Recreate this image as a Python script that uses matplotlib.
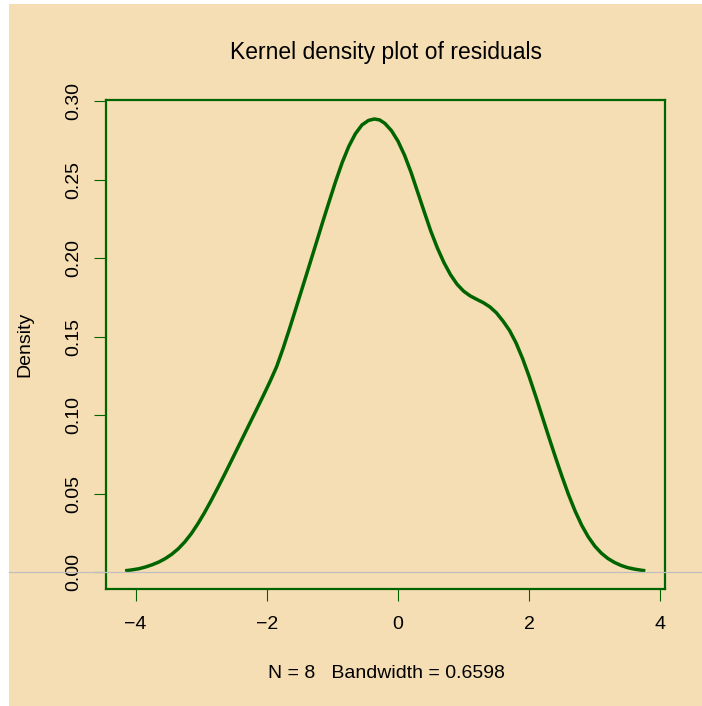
import matplotlib
matplotlib.use("Agg")
import matplotlib.pyplot as plt
import matplotlib.transforms as mtransforms
from matplotlib.patches import Rectangle
from matplotlib.lines import Line2D

plt.rcParams['font.family'] = ['Liberation Sans', 'DejaVu Sans']

# Density curve points
density_x = [-4.16, -4.05, -3.95, -3.85, -3.75, -3.65, -3.55, -3.45, -3.35, -3.25,
             -3.15, -3.05, -2.95, -2.85, -2.75, -2.65, -2.55, -2.45, -2.35, -2.25,
             -2.15, -2.05, -1.95, -1.85, -1.75, -1.65, -1.55, -1.45, -1.35, -1.25,
             -1.15, -1.05, -0.95, -0.85, -0.75, -0.65, -0.55, -0.45, -0.36, -0.28,
             -0.20, -0.10, 0.00, 0.10, 0.20, 0.30, 0.40, 0.50, 0.60, 0.70,
             0.80, 0.90, 1.00, 1.10, 1.20, 1.30, 1.40, 1.50, 1.60, 1.70,
             1.80, 1.90, 2.00, 2.10, 2.20, 2.30, 2.40, 2.50, 2.60, 2.70,
             2.80, 2.90, 3.00, 3.10, 3.20, 3.30, 3.40, 3.50, 3.60, 3.70, 3.77]
density_y = [0.0010, 0.0016, 0.0023, 0.0034, 0.0048, 0.0065, 0.0087, 0.0115, 0.0150, 0.0194,
             0.0247, 0.0310, 0.0380, 0.0456, 0.0536, 0.0618, 0.0702, 0.0787, 0.0872, 0.0957,
             0.1042, 0.1128, 0.1216, 0.1310, 0.1428, 0.1556, 0.1689, 0.1823, 0.1957, 0.2092,
             0.2228, 0.2360, 0.2490, 0.2610, 0.2712, 0.2792, 0.2848, 0.2877, 0.2886, 0.2880,
             0.2858, 0.2812, 0.2745, 0.2655, 0.2545, 0.2420, 0.2295, 0.2172, 0.2065, 0.1972,
             0.1895, 0.1834, 0.1790, 0.1760, 0.1738, 0.1717, 0.1690, 0.1652, 0.1600, 0.1540,
             0.1460, 0.1360, 0.1245, 0.1120, 0.0990, 0.0860, 0.0733, 0.0610, 0.0494, 0.0390,
             0.0300, 0.0226, 0.0167, 0.0122, 0.0088, 0.0063, 0.0044, 0.0030, 0.0021, 0.0014, 0.0010]

x_ticks = [-4, -2, 0, 2, 4]
x_tick_labels = ["\u22124", "\u22122", "0", "2", "4"]
y_ticks = [0.00, 0.05, 0.10, 0.15, 0.20, 0.25, 0.30]
y_tick_labels = ["0.00", "0.05", "0.10", "0.15", "0.20", "0.25", "0.30"]

title_text = "Kernel density plot of residuals"
x_label = "N = 8   Bandwidth = 0.6598"
y_label = "Density"

WHEAT = "#F5DEB3"
GREEN = "#006400"
W, H = 702, 706

fig = plt.figure(figsize=(W / 100, H / 100), dpi=100, facecolor="white")
fig.patches.append(Rectangle((9 / W, 0), 1 - 9 / W, 1 - 4 / H, transform=fig.transFigure,
                             facecolor=WHEAT, edgecolor="none", zorder=-10))

left, right, top, bottom = 105.7, 665.0, 100.0, 589.0
ax = fig.add_axes([left / W, 1 - bottom / H, (right - left) / W, (bottom - top) / H])
ax.set_facecolor(WHEAT)
ax.patch.set_alpha(0.0)

ax.plot(density_x, density_y, color=GREEN, lw=2.5, solid_capstyle="butt",
        solid_joinstyle="round", zorder=3)

ax.set_xlim(-4.456, 4.070)
ax.set_ylim(-0.0106, 0.3007)

# horizontal reference line at 0 spanning the figure
trans = mtransforms.blended_transform_factory(fig.transFigure, ax.transData)
fig.add_artist(Line2D([9 / W, 1.0], [0, 0], transform=trans, color="#BEBEBE", lw=0.9, zorder=2))

for sp in ax.spines.values():
    sp.set_color(GREEN)
    sp.set_linewidth(1.6)

ax.set_xticks(x_ticks)
ax.set_xticklabels(x_tick_labels)
ax.set_yticks(y_ticks)
ax.set_yticklabels(y_tick_labels, rotation=90, va="center")
ax.tick_params(axis="both", colors=GREEN, labelcolor="black", length=8.6, width=0.8,
               labelsize=14, direction="out")
ax.tick_params(axis="x", pad=11)
ax.tick_params(axis="y", pad=8)

fig.text(386 / W, 1 - 52 / H, title_text, ha="center", va="center", fontsize=16.5)
fig.text(386 / W, 1 - 673 / H, x_label, ha="center", va="center", fontsize=14)
fig.text(25 / W, 1 - 344 / H, y_label, ha="center", va="center", rotation=90, fontsize=14)

fig.savefig("out.png", dpi=100, facecolor="white")
